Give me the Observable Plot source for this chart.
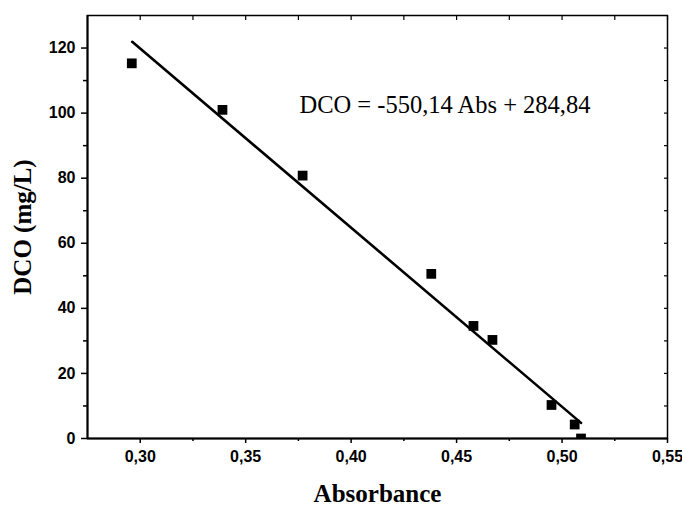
<!DOCTYPE html>
<html><head><meta charset="utf-8">
<script src="https://cdn.jsdelivr.net/npm/d3@7"></script>
<script src="https://cdn.jsdelivr.net/npm/@observablehq/plot@0.6"></script>
<style>
body{margin:0;background:#fff}
</style>
</head><body><div id="chart"></div>
<script>
const absorbance = [0.296, 0.339, 0.377, 0.438, 0.458, 0.467, 0.495, 0.506, 0.509];
const dco = [115.3, 101.0, 80.8, 50.6, 34.6, 30.3, 10.3, 4.3, 0.0];
const fitAbs = [0.2962, 0.509];
const fitDco = [121.9, 4.8];
const xTicks = [0.30, 0.35, 0.40, 0.45, 0.50, 0.55];
const xMinor = [0.325, 0.375, 0.425, 0.475, 0.525];
const yTicks = [0, 20, 40, 60, 80, 100, 120];
const yMinor = [10, 30, 50, 70, 90, 110];
const equation = "DCO = -550,14 Abs + 284,84";
const equationAbs = 0.3755;
const equationDco = 100;
const xLabel = "Absorbance";
const yLabel = "DCO (mg/L)";
const xDomain = [0.275, 0.55];
const yDomain = [0, 130];

const points = absorbance.map((a, i) => ({a, d: dco[i]}));
const fit = fitAbs.map((a, i) => ({a, d: fitDco[i]}));
const comma = d => d.toFixed(2).replace(".", ",");
const blank = () => "";
const serif = "'Liberation Serif', 'Times New Roman', serif";

const chart = Plot.plot({
  width: 682, height: 506,
  marginLeft: 87, marginRight: 15, marginTop: 15, marginBottom: 68,
  x: {domain: xDomain},
  y: {domain: yDomain},
  style: {fontFamily: "'Liberation Sans', Arial, sans-serif", fontSize: "16px", fontWeight: "bold", color: "black", background: "white"},
  marks: [
    Plot.axisX(xTicks, {tickSize: 5, tickPadding: 7, tickFormat: comma, label: null, strokeWidth: 1.5, fontWeight: "bold", fontSize: 16}),
    Plot.axisX(xMinor, {tickSize: 3, tickFormat: blank, label: null, strokeWidth: 1.5}),
    Plot.axisX(xTicks.concat(xMinor), {anchor: "top", tickSize: -4, tickFormat: blank, label: null, strokeWidth: 1.2}),
    Plot.axisY(yTicks, {tickSize: 6, tickPadding: 6, label: null, strokeWidth: 1.5, fontWeight: "bold", fontSize: 16}),
    Plot.axisY(yMinor, {tickSize: 4, tickFormat: blank, label: null, strokeWidth: 1.5}),
    Plot.axisY(yTicks.concat(yMinor), {anchor: "right", tickSize: -4, tickFormat: blank, label: null, strokeWidth: 1.2}),
    Plot.line(fit, {x: "a", y: "d", stroke: "black", strokeWidth: 2.6}),
    Plot.dot(points, {x: "a", y: "d", symbol: "square", r: 5.5, fill: "black", stroke: null, clip: true}),
    Plot.text([equation], {x: () => equationAbs, y: () => equationDco, text: d => d, textAnchor: "start", lineAnchor: "bottom", fontFamily: serif, fontWeight: "normal", fontSize: 24.5}),
    Plot.text([xLabel], {text: d => d, frameAnchor: "bottom", dy: 55, textAnchor: "middle", lineAnchor: "middle", fontFamily: serif, fontWeight: "bold", fontSize: 25}),
    Plot.text([yLabel], {text: d => d, frameAnchor: "left", dx: -65, rotate: -90, textAnchor: "middle", lineAnchor: "middle", fontFamily: serif, fontWeight: "bold", fontSize: 25}),
    Plot.frame({stroke: "black", strokeWidth: 1.5}),
    Plot.ruleX([xDomain[0]], {stroke: "black", strokeWidth: 2}),
    Plot.ruleY([yDomain[0]], {stroke: "black", strokeWidth: 2})
  ]
});
document.getElementById("chart").appendChild(chart);
</script>
</body></html>
